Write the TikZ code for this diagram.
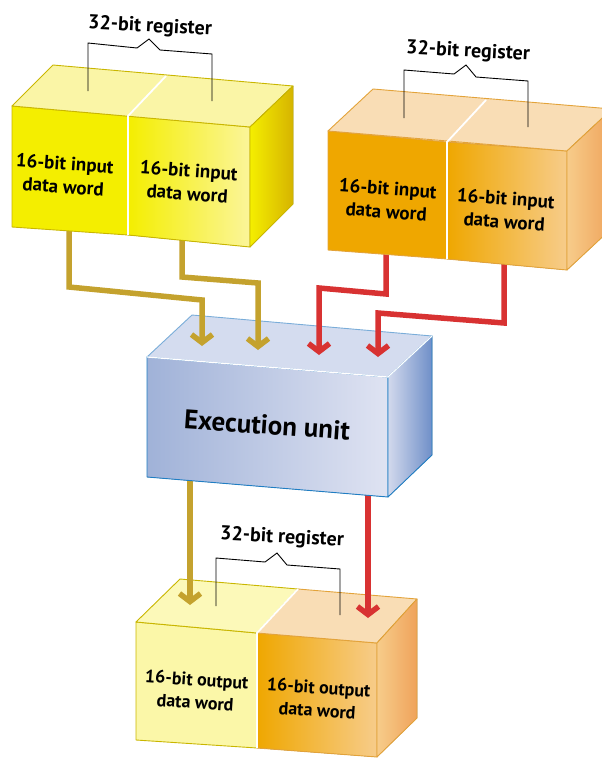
\documentclass[tikz,border=0pt]{standalone}
\usepackage{fontspec}
\setmainfont{PT Sans}
\usetikzlibrary{arrows.meta}
\definecolor{ylwA}{HTML}{F4EE00}
\definecolor{ylwB}{HTML}{FBF59A}
\definecolor{ylwTop}{HTML}{FAF5A6}
\definecolor{ylwSide}{HTML}{D6B400}
\definecolor{ylwEdge}{HTML}{C9B600}
\definecolor{orgA}{HTML}{EFA700}
\definecolor{orgB}{HTML}{F7CC8A}
\definecolor{orgTop}{HTML}{F9DDB5}
\definecolor{orgSide}{HTML}{EFA35B}
\definecolor{orgEdge}{HTML}{E3A33A}
\definecolor{exeA}{HTML}{A0B2D8}
\definecolor{exeB}{HTML}{DFE3F2}
\definecolor{exeTop}{HTML}{D4DCEF}
\definecolor{exeSide}{HTML}{6F8FC8}
\definecolor{exeEdge}{HTML}{1F7EC4}
\definecolor{outY}{HTML}{FBF7A8}
\definecolor{flowY}{HTML}{C4A22E}
\definecolor{flowR}{HTML}{D83232}
\tikzset{face/.style={draw=#1,line width=0.9pt,line join=round},
  split/.style={draw=white,line width=1.8pt},
  wordlbl/.style={font=\bfseries\fontsize{19}{23}\selectfont,align=center,rotate=-4,inner sep=0pt},
  reglbl/.style={font=\bfseries\fontsize{20}{22}\selectfont,rotate=-3,inner sep=0pt},
  brace/.style={draw=black,line width=0.9pt},
  flow/.style={line width=5.5pt,-{Straight Barb[length=8pt,width=21pt]}}}
\begin{document}
\begin{tikzpicture}[x=1pt,y=-1pt]
  \clip (0,0) rectangle (602,758);
  % output register
  \fill[face=ylwEdge,fill=outY] (136,622)--(257,633)--(257,748)--(136,740)--cycle;
  \fill[face=orgEdge,left color=orgA,right color=orgB] (257,633)--(377,643)--(377,757)--(257,748)--cycle;
  \fill[face=ylwEdge,fill=outY!80!white] (136,622)--(180,579)--(298,589)--(257,633)--cycle;
  \fill[face=orgEdge,fill=orgTop] (257,633)--(298,589)--(417,599)--(377,643)--cycle;
  \fill[face=orgEdge,left color=orgB,right color=orgSide] (377,643)--(417,599)--(417,718)--(377,757)--cycle;
  \draw[split] (298,589)--(257,633)--(257,748);
  \node[wordlbl,font=\bfseries\fontsize{18}{23}\selectfont] (outlo) at (196,691) {16-bit output\\data word};
  \node[wordlbl,font=\bfseries\fontsize{18}{23}\selectfont] (outhi) at (318,699) {16-bit output\\data word};
  \draw[brace] (216,606)--(216,558)--(265,562)--(277,553)--(287,565)--(340,569)--(340,615);
  \node[reglbl] (outreg) at (282,538) {32-bit register};
  % results into the output register
  \coordinate (o1s) at (190,470); \coordinate (o1e) at (190,605);
  \coordinate (o2s) at (368,485); \coordinate (o2e) at (368,618);
  \draw[flow,flowY] (o1s) -- (o1e);
  \draw[flow,flowR] (o2s) -- (o2e);
  % execution unit
  \fill[face=exeEdge,left color=exeA,right color=exeB] (147,357)--(388,377)--(388,497)--(147,477)--cycle;
  \fill[face=exeEdge!50!exeTop,fill=exeTop] (147,357)--(192,315)--(432,336)--(388,377)--cycle;
  \fill[face=exeEdge,left color=exeB!80!exeA,right color=exeSide] (388,377)--(432,336)--(432,455)--(388,497)--cycle;
  \draw[white,line width=1.2pt] (147,357)--(388,377)--(432,336);
  \node[font=\bfseries\fontsize{27}{30}\selectfont,rotate=-4] (exe) at (267,425) {Execution unit};
  % operands into the execution unit
  \coordinate (y1s) at (69,222); \coordinate (y1e) at (202,346);
  \coordinate (y2s) at (182,230); \coordinate (y2e) at (258,350);
  \coordinate (r1s) at (386,244); \coordinate (r1e) at (319,355);
  \coordinate (r2s) at (504,254); \coordinate (r2e) at (378,357);
  \draw[flow,flowY,line join=miter] (y1s) -- ++(0,65) -- ++(133,13) -- (y1e);
  \draw[flow,flowY,line join=miter] (y2s) -- ++(0,47) -- ++(76,6) -- (y2e);
  \draw[flow,flowR,line join=miter] (r1s) -- ++(0,50) -- ++(-67,-6) -- (r1e);
  \draw[flow,flowR,line join=miter] (r2s) -- ++(0,69) -- ++(-126,-10) -- (r2e);
  % first input register
  \fill[face=ylwEdge,fill=ylwA] (12,106)--(128,116)--(128,235)--(12,227)--cycle;
  \fill[face=ylwEdge,left color=ylwA,right color=ylwB] (128,116)--(250,127)--(250,247)--(128,235)--cycle;
  \fill[face=ylwEdge,fill=ylwTop] (12,106)--(53,65)--(293,86)--(250,127)--cycle;
  \fill[face=ylwEdge,left color=ylwA,right color=ylwSide] (250,127)--(293,86)--(293,204)--(250,247)--cycle;
  \draw[split] (166,76)--(128,116)--(128,235);
  \node[wordlbl] (inAlo) at (64,175) {16-bit input\\data word};
  \node[wordlbl] (inAhi) at (188,182) {16-bit input\\data word};
  \draw[brace] (88,91)--(88,43)--(137,48)--(149,39)--(160,50)--(212,54)--(212,101);
  \node[reglbl] (inAreg) at (150,27) {32-bit register};
  % second input register
  \fill[face=orgEdge,fill=orgA] (328,131)--(447,142)--(447,259)--(328,250)--cycle;
  \fill[face=orgEdge,left color=orgA,right color=orgB] (447,142)--(567,151)--(567,270)--(447,259)--cycle;
  \fill[face=orgEdge,fill=orgTop] (328,131)--(373,89)--(612,109)--(567,151)--cycle;
  \fill[face=orgEdge,left color=orgB,right color=orgSide] (567,151)--(612,109)--(612,228)--(567,270)--cycle;
  \draw[split] (486,100)--(447,142)--(447,259);
  \node[wordlbl] (inBlo) at (387,200) {16-bit input\\data word};
  \node[wordlbl] (inBhi) at (505,210) {16-bit input\\data word};
  \draw[brace] (404,118)--(404,70)--(454,74)--(466,65)--(476,77)--(528,81)--(528,127);
  \node[reglbl] (inBreg) at (468,52) {32-bit register};
\end{tikzpicture}
\end{document}
